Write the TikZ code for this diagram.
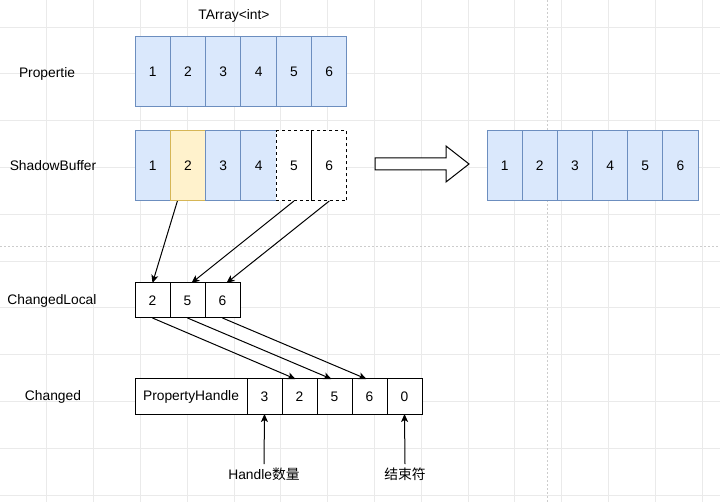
\documentclass[tikz,border=0pt]{standalone}
\usepackage{fontspec}
\setmainfont{Liberation Sans}
\newfontfamily\cjk{Noto Sans CJK SC}
\usetikzlibrary{calc,arrows.meta,positioning}
\definecolor{cellblue}{HTML}{DAE8FC}
\definecolor{edgeblue}{HTML}{6C8EBF}
\definecolor{cellyellow}{HTML}{FFF2CC}
\definecolor{edgeyellow}{HTML}{D6B656}
\definecolor{gridgray}{HTML}{EAEAEA}

\begin{document}
\begin{tikzpicture}[x=1pt,y=-1pt,
    every node/.style={font=\fontsize{13.8}{16}\selectfont},
    cell/.style={draw, line width=1pt, inner sep=0pt, outer sep=0pt, anchor=west},
    bluecell/.style={cell, fill=cellblue, draw=edgeblue, minimum width=35.33pt, minimum height=70pt},
    yellowcell/.style={cell, fill=cellyellow, draw=edgeyellow, minimum width=35.33pt, minimum height=70pt},
    dashcell/.style={cell, fill=white, dashed, minimum width=35.33pt, minimum height=70pt},
    boxcell/.style={cell, fill=white, minimum width=35pt, minimum height=35pt},
    arr/.style={-{Stealth[length=8pt,width=7pt,inset=2pt]}, line width=1pt}]
    \fill[white] (0,0) rectangle (720,502);
    \useasboundingbox (0,0) rectangle (720,502);
    \foreach \k in {1,...,15} {\draw[gridgray, line width=0.8pt] ({46.8*\k},0) -- ({46.8*\k},502);}
    \foreach \k in {0,...,10} {\draw[gridgray, line width=0.8pt] (0,{27+46.8*\k}) -- (720,{27+46.8*\k});}
    \draw[gray!40, line width=0.8pt, dash pattern=on 2pt off 2pt] (0,246.5) -- (720,246.5);
    \draw[gray!40, line width=0.8pt, dash pattern=on 2pt off 2pt] (547,0) -- (547,502);

    \node (tarray) at (234,16) {TArray<int>};
    \node (lprop) at (47,74) {Propertie};
    \node (lshadow) at (53,166) {ShadowBuffer};
    \node (llocal) at (52,301) {ChangedLocal};
    \node (lchanged) at (53,397) {Changed};

    \foreach \v [count=\i] in {1,...,6} {\node[bluecell] (p\i) at ({135+35.33*(\i-1)},72) {\v};}
    \foreach \v/\s [count=\i] in {1/bluecell,2/yellowcell,3/bluecell,4/bluecell,5/dashcell,6/dashcell}
        {\node[\s] (s\i) at ({135+35.33*(\i-1)},166) {\v};}
    \foreach \v [count=\i] in {1,...,6} {\node[bluecell, minimum width=35.17pt] (r\i) at ({487+35.17*(\i-1)},165.5) {\v};}

    \draw[line width=1pt, fill=white] (375,158) -- (446,158) -- (446,146) -- (469,164)
        -- (446,182) -- (446,170) -- (375,170) -- cycle;

    \foreach \v [count=\i] in {2,5,6} {\node[boxcell] (c\i) at ({135+35*(\i-1)},300.5) {\v};}
    \node[boxcell, minimum width=112pt] (h0) at (135,396.5) {PropertyHandle};
    \foreach \v [count=\i] in {3,2,5,6,0} {\node[boxcell] (h\i) at ({247+35*(\i-1)},396.5) {\v};}

    \draw[arr] ($(s2.south west)!0.2!(s2.south east)$) -- (c1.north);
    \draw[arr] (s5.south) -- ($(c2.north)+(4,0)$);
    \draw[arr] (s6.south) -- ($(c3.north)+(4,0)$);
    \draw[arr] (c1.south) -- ($(h2.north)+(-4,0)$);
    \draw[arr] (c2.south) -- ($(h3.north)+(-3,0)$);
    \draw[arr] (c3.south) -- ($(h4.north)+(-3,0)$);

    \node (lcount) at (264,474) {Handle{\cjk 数量}};
    \node (lend) at (405,474) {\cjk 结束符};
    \draw[arr] (lcount.north) -- (h1.south);
    \draw[arr] (lend.north) -- (h5.south);
\end{tikzpicture}
\end{document}
